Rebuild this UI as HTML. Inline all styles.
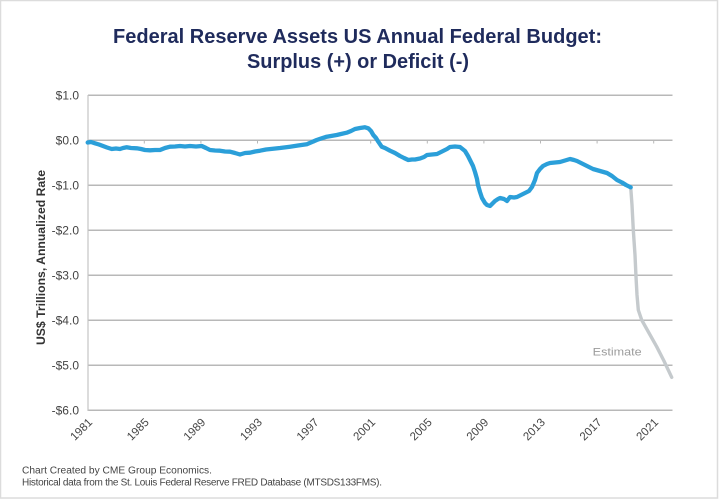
<!DOCTYPE html>
<html>
<head>
<meta charset="utf-8">
<style>
  html,body{margin:0;padding:0;background:#fff;}
  svg{display:block;}
  text{font-family:"Liberation Sans",sans-serif;}
</style>
</head>
<body>
<svg width="720" height="500" viewBox="0 0 720 500" xmlns="http://www.w3.org/2000/svg">
  <rect x="0" y="0" width="720" height="500" fill="#fff"/>
  <rect x="0.5" y="0.5" width="717" height="497.5" fill="none" stroke="#dcdcdc" stroke-width="1.5"/>

  <!-- Title -->
  <text x="357.5" y="43" text-anchor="middle" font-size="20" font-weight="bold" fill="#1f2b5c" textLength="489" lengthAdjust="spacingAndGlyphs">Federal Reserve Assets US Annual Federal Budget:</text>
  <text x="358" y="68" text-anchor="middle" font-size="20" font-weight="bold" fill="#1f2b5c" textLength="222" lengthAdjust="spacingAndGlyphs">Surplus (+) or Deficit (-)</text>

  <!-- Gridlines -->
  <g stroke="#b8b8b8" stroke-width="1.5">
    <line x1="88" y1="95.3" x2="672.5" y2="95.3"/>
    <line x1="88" y1="140.3" x2="672.5" y2="140.3"/>
    <line x1="88" y1="185.3" x2="672.5" y2="185.3"/>
    <line x1="88" y1="230.3" x2="672.5" y2="230.3"/>
    <line x1="88" y1="275.3" x2="672.5" y2="275.3"/>
    <line x1="88" y1="320.3" x2="672.5" y2="320.3"/>
    <line x1="88" y1="365.3" x2="672.5" y2="365.3"/>
    <line x1="88" y1="410.3" x2="672.5" y2="410.3"/>
  </g>
  <line x1="88" y1="95" x2="88" y2="411" stroke="#c4c4c4" stroke-width="1.2"/>
  <!-- ticks on zero line -->
  <g stroke="#b8b8b8" stroke-width="1">
    <line x1="87.7" y1="140" x2="87.7" y2="143.5"/>
    <line x1="144.3" y1="140" x2="144.3" y2="143.5"/>
    <line x1="200.9" y1="140" x2="200.9" y2="143.5"/>
    <line x1="257.5" y1="140" x2="257.5" y2="143.5"/>
    <line x1="314.1" y1="140" x2="314.1" y2="143.5"/>
    <line x1="370.7" y1="140" x2="370.7" y2="143.5"/>
    <line x1="427.3" y1="140" x2="427.3" y2="143.5"/>
    <line x1="483.9" y1="140" x2="483.9" y2="143.5"/>
    <line x1="540.5" y1="140" x2="540.5" y2="143.5"/>
    <line x1="597.1" y1="140" x2="597.1" y2="143.5"/>
    <line x1="653.7" y1="140" x2="653.7" y2="143.5"/>
  </g>

  <!-- Y labels -->
  <g font-size="12" fill="#444" text-anchor="end">
    <text x="79" y="99.5">$1.0</text>
    <text x="79" y="144.5">$0.0</text>
    <text x="79" y="189.5">-$1.0</text>
    <text x="79" y="234.5">-$2.0</text>
    <text x="79" y="279.5">-$3.0</text>
    <text x="79" y="324.5">-$4.0</text>
    <text x="79" y="369.5">-$5.0</text>
    <text x="79" y="414.5">-$6.0</text>
  </g>

  <!-- Y axis title -->
  <text transform="translate(45,257.5) rotate(-90)" text-anchor="middle" font-size="12" font-weight="bold" fill="#333" textLength="175" lengthAdjust="spacingAndGlyphs">US$ Trillions, Annualized Rate</text>

  <!-- X labels -->
  <g font-size="11.5" fill="#444" text-anchor="end">
    <text transform="translate(93,423) rotate(-45)">1981</text>
    <text transform="translate(149.6,423) rotate(-45)">1985</text>
    <text transform="translate(206.2,423) rotate(-45)">1989</text>
    <text transform="translate(262.8,423) rotate(-45)">1993</text>
    <text transform="translate(319.4,423) rotate(-45)">1997</text>
    <text transform="translate(376,423) rotate(-45)">2001</text>
    <text transform="translate(432.6,423) rotate(-45)">2005</text>
    <text transform="translate(489.2,423) rotate(-45)">2009</text>
    <text transform="translate(545.8,423) rotate(-45)">2013</text>
    <text transform="translate(602.4,423) rotate(-45)">2017</text>
    <text transform="translate(659,423) rotate(-45)">2021</text>
  </g>

  <!-- Estimate series -->
  <polyline fill="none" stroke="#c5cacd" stroke-width="3.4" stroke-linecap="round" stroke-linejoin="round"
    points="630.7,187.3 632,205 633.3,230 635,255 636,276.7 637,295 638.3,310 641.7,320 649,333 656.7,346.7 664,361 671.7,377.3"/>
  <text x="592.7" y="355.7" font-size="11" fill="#9c9c9c" textLength="49" lengthAdjust="spacingAndGlyphs">Estimate</text>

  <!-- Historical series -->
  <polyline fill="none" stroke="#2b9fd9" stroke-width="4.3" stroke-linecap="round" stroke-linejoin="round"
    points="87.7,142.5 91,142 95,143.3 99,144.5 103,146 107,147.5 111.7,149 116,148.5 120,149 123,148 126.7,147.3 131,148 136.7,148.3 141,149 145,150 150,150.3 155,150 160,150 165,148 170,146.7 175,146.5 180,146 185,146.5 190,146 196,146.5 201.7,146 206,148 210,150 215,150.5 220,150.7 225,151.5 230,151.7 235,153 240,154.5 245,153 250,152.7 255,151.5 260,150.7 266,149.5 273,148.7 280,148 290,146.7 298,145.5 306.7,144.3 312,142 316.7,140 321,138.5 326.7,136.7 331,136 336.7,135 341,134 346.7,132.7 351,131 355,129 360,128 365,127.3 368.3,128.3 371,131 373.3,135 376,138 378.3,141.7 381.7,146.7 385,148 390,150.7 395,153 400,156 404,158 408.3,160 412,159.5 415,159.5 420,158.5 424,157 427,155 432,154.5 437,154 443,151 447,149 450,147 455,146.5 460,147 465,151 468,156 470,160 473,166 475,172 477,179 478,185 480,192 482,198 485,203 487,205 490,206 493,203 495,201 498,199 500,198 504,199 507,201 510,197 514,197.5 517,197 521,195 525,193 529,191 532,187 535,180 537,173 540,169 543,166 547,164 550,163 555,162.5 560,162 565,160.5 570,159 574,160 577,161 581,163 585,165 589,167 593,169 600,171 607,173 612,176 617,180 622,182.5 626,185 630.7,187.3"/>

  <!-- Footer -->
  <text x="22" y="473.3" font-size="10" fill="#444" textLength="190" lengthAdjust="spacingAndGlyphs">Chart Created by CME Group Economics.</text>
  <text x="22" y="485.7" font-size="10" fill="#444" textLength="360" lengthAdjust="spacing">Historical data from the St. Louis Federal Reserve FRED Database (MTSDS133FMS).</text>
</svg>
</body>
</html>
